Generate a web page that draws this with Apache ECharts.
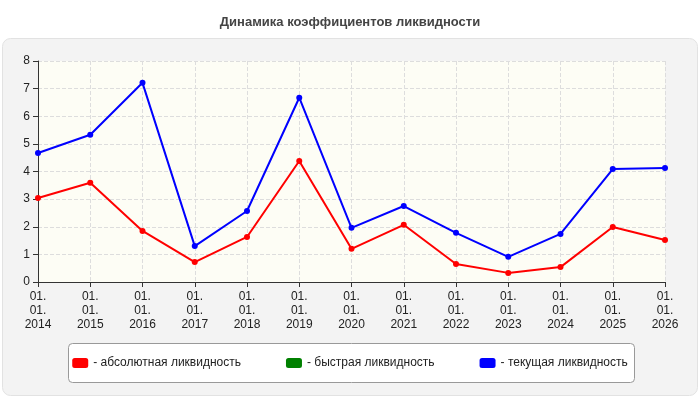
<!DOCTYPE html>
<html><head><meta charset="utf-8">
<script src="https://cdn.jsdelivr.net/npm/echarts@6/dist/echarts.min.js"></script>
<style>html,body{margin:0;padding:0;background:#fff}#c{width:700px;height:400px}</style>
</head><body><div id="c"></div>
<script>
const categories = ['01.\n01.\n2014','01.\n01.\n2015','01.\n01.\n2016','01.\n01.\n2017','01.\n01.\n2018','01.\n01.\n2019','01.\n01.\n2020','01.\n01.\n2021','01.\n01.\n2022','01.\n01.\n2023','01.\n01.\n2024','01.\n01.\n2025','01.\n01.\n2026'];
const absolute = [3.04,3.59,1.85,0.72,1.63,4.38,1.2,2.07,0.65,0.33,0.54,1.99,1.52];
const quick = [null,null,null,null,null,null,null,null,null,null,null,null,null];
const current = [4.67,5.33,7.21,1.30,2.57,6.67,1.96,2.75,1.78,0.91,1.74,4.09,4.13];
const chart = echarts.init(document.getElementById('c'));
const font = 'Arial, "Liberation Sans", sans-serif';
function s(name, data, color){return {name, type:'line', data, color, symbol:'circle', symbolSize:6, lineStyle:{width:2,color}, itemStyle:{color}};}
chart.setOption({
  animation:false,
  textStyle:{fontFamily:font},
  graphic:[{type:'rect',left:2,top:38,shape:{width:695,height:357,r:8},style:{fill:'#f3f3f3',stroke:'#e2e2e2'},z:-10},
           {type:'rect',left:68,top:343,shape:{width:566,height:39,r:4},style:{fill:'#fff',stroke:'#999'},z:-5}],
  title:{text:'Динамика коэффициентов ликвидности',left:'center',top:11,textStyle:{fontSize:13,fontWeight:'bold',color:'#444',fontFamily:font}},
  grid:{left:38,right:35,top:61,bottom:118,show:true,backgroundColor:'#fdfdf5',borderWidth:0},
  legend:{top:352,left:'center',itemGap:45,icon:'roundRect',itemWidth:16,itemHeight:10,textStyle:{fontSize:12,color:'#222'},
    formatter:n=>'- '+n},
  xAxis:{type:'category',data:categories,boundaryGap:false,
    axisLine:{lineStyle:{color:'#333'}},axisTick:{show:true,lineStyle:{color:'#333'}},
    axisLabel:{color:'#222',fontSize:12,lineHeight:14,interval:0},
    splitLine:{show:true,lineStyle:{type:'dashed',color:'#ddd'}}},
  yAxis:{type:'value',min:0,max:8,interval:1,
    axisLine:{show:true,lineStyle:{color:'#333'}},axisTick:{show:true},
    axisLabel:{color:'#222',fontSize:12},
    splitLine:{lineStyle:{type:'dashed',color:'#ddd'}}},
  series:[s('абсолютная ликвидность',absolute,'#ff0000'),s('быстрая ликвидность',quick,'#008000'),s('текущая ликвидность',current,'#0000ff')]
});
</script></body></html>
